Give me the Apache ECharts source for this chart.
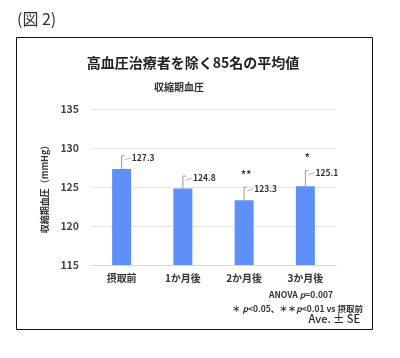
<!DOCTYPE html>
<html><head><meta charset="utf-8">
<script src="https://cdn.jsdelivr.net/npm/echarts@6/dist/echarts.min.js"></script>
<style>html,body{margin:0;padding:0;background:#fff}#c{width:400px;height:358px}</style>
</head><body><div id="c"></div>
<script>
var categories = ['摂取前', '1か月後', '2か月後', '3か月後'];
var means = [127.3, 124.8, 123.3, 125.1];
var se = [1.7, 1.6, 1.7, 2.0];
var sig = ['', '', '**', '*'];
var yTicks = [115, 120, 125, 130, 135];

var FONT = '"Noto Sans CJK JP", "Noto Sans", sans-serif';
var chart = echarts.init(document.getElementById('c'), null, {renderer: 'canvas'});

var customData = means.map(function (m, i) { return [i, m, m + se[i], i]; });

chart.setOption({
  animation: false,
  backgroundColor: '#fff',
  textStyle: {fontFamily: FONT},
  grid: {left: 91, right: 64, top: 109, bottom: 93},
  xAxis: {
    type: 'category', data: categories,
    axisLine: {show: true, lineStyle: {color: '#d9d9d9'}},
    axisTick: {show: false},
    axisLabel: {color: '#333', fontSize: 10, fontWeight: 'bold', fontFamily: FONT, margin: 8}
  },
  yAxis: {
    type: 'value', min: yTicks[0], max: yTicks[yTicks.length - 1], interval: 5,
    name: '収縮期血圧（mmHg）', nameLocation: 'middle', nameGap: 38, nameRotate: 90,
    nameTextStyle: {color: '#333', fontSize: 9, fontWeight: 'bold', fontFamily: FONT},
    axisLine: {show: false}, axisTick: {show: false},
    axisLabel: {color: '#444', fontSize: 10.5, fontWeight: 'bold', fontFamily: FONT, margin: 12},
    splitLine: {lineStyle: {color: '#e6e6e6'}}
  },
  series: [
    {
      type: 'bar', data: means, barWidth: 19,
      itemStyle: {color: '#5e90f7'}
    },
    {
      type: 'custom', data: customData, z: 5,
      renderItem: function (params, api) {
        var x = api.value(0);
        var top = api.coord([x, api.value(1)]);
        var err = api.coord([x, api.value(2)]);
        var idx = api.value(3);
        var cx = top[0];
        var children = [
          {type: 'line', shape: {x1: cx, y1: top[1], x2: cx, y2: err[1]}, style: {stroke: '#999', lineWidth: 1}},
          {type: 'line', shape: {x1: cx, y1: err[1], x2: cx + 3, y2: err[1]}, style: {stroke: '#999', lineWidth: 1}},
          {type: 'line', shape: {x1: cx + 3, y1: err[1] + 4, x2: cx + 9, y2: err[1] + 2}, style: {stroke: '#aaa', lineWidth: 0.8}},
          {type: 'text', style: {text: means[idx].toFixed(1), x: cx + 10, y: err[1] + 2, textAlign: 'left', textVerticalAlign: 'middle', fill: '#333', font: 'bold 8.5px ' + FONT}}
        ];
        if (sig[idx]) {
          children.push({type: 'text', style: {text: sig[idx], x: cx + 2, y: err[1] - 13, textAlign: 'center', textVerticalAlign: 'middle', fill: '#333', font: 'bold 10px ' + FONT}});
        }
        return {type: 'group', children: children};
      }
    }
  ],
  graphic: [
    {type: 'text', left: 17, top: 11, style: {text: '(図 2)', fill: '#333', font: '16px ' + FONT}},
    {type: 'rect', shape: {x: 16.5, y: 37.5, width: 356, height: 292}, style: {fill: null, stroke: '#111', lineWidth: 1}},
    {type: 'text', style: {text: '高血圧治療者を除く85名の平均値', x: 193, y: 63, textAlign: 'center', textVerticalAlign: 'middle', fill: '#222', font: 'bold 14px ' + FONT}},
    {type: 'text', style: {text: '収縮期血圧', x: 179, y: 87, textAlign: 'center', textVerticalAlign: 'middle', fill: '#333', font: 'bold 10px ' + FONT}},
    {type: 'text', style: {
      text: '{a|ANOVA }{i|p}{a|=0.007}', x: 333, y: 295, textAlign: 'right', textVerticalAlign: 'middle',
      rich: {a: {fill: '#333', font: 'bold 8.5px ' + FONT}, i: {fill: '#333', font: 'italic bold 8.5px ' + FONT}}
    }},
    {type: 'text', style: {
      text: '{a|＊ }{i|p}{a|<0.05、＊＊}{i|p}{a|<0.01 vs 摂取前}', x: 363, y: 309, textAlign: 'right', textVerticalAlign: 'middle',
      rich: {a: {fill: '#333', font: 'bold 8.5px ' + FONT}, i: {fill: '#333', font: 'italic bold 8.5px ' + FONT}}
    }},
    {type: 'text', style: {text: 'Ave. ± SE', x: 360, y: 319, textAlign: 'right', textVerticalAlign: 'middle', fill: '#222', font: '500 11px ' + FONT}}
  ]
});
</script>
</body></html>
